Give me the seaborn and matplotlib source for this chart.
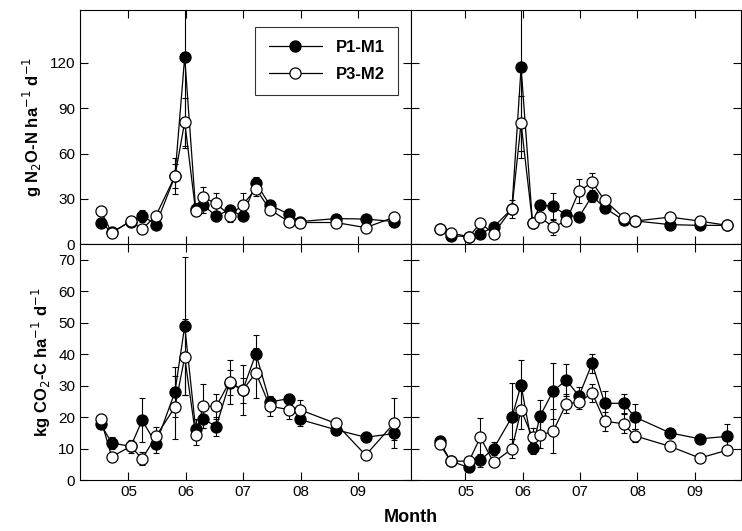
import numpy as np
import pandas as pd
import matplotlib
matplotlib.use("Agg")
import matplotlib.pyplot as plt
import seaborn as sns

# sampling dates, month as decimal (05 = May)
x_left = [4.52, 4.71, 5.04, 5.24, 5.48, 5.81, 5.98, 6.17, 6.30, 6.53, 6.76, 6.99,
          7.22, 7.46, 7.79, 7.98, 8.61, 9.13, 9.63]
x_right = [4.55, 4.74, 5.06, 5.26, 5.49, 5.81, 5.97, 6.17, 6.30, 6.53, 6.76, 6.98,
           7.21, 7.43, 7.76, 7.95, 8.57, 9.09, 9.57]

# N2O flux (g N2O-N ha-1 d-1)
n2o_l_p1 = [14.4, 8, 15, 19, 13, 45, 124, 23.5, 26, 18.5, 23, 18.5, 40.6, 26, 20, 15, 17, 16.7, 15]
n2o_l_p3 = [22, 7.5, 15.5, 10, 19, 45, 81, 22, 31, 27, 19, 26, 36.8, 23, 15, 14.4, 14.4, 11, 18]
n2o_l_p1_err = [2, 1, 2, 4, 3, 8, 60, 4, 5, 3, 3, 2, 4, 3, 2, 1, 1, 1, 1]
n2o_l_p3_err = [2, 1, 2, 2, 3, 12, 16, 3, 7, 7, 4, 8, 5, 3, 2, 1, 1, 1, 1]
n2o_r_p1 = [10, 5.7, 5, 7, 11.4, 23.5, 117, 14, 26, 25, 19.4, 18, 32, 24, 16, 15.5, 13, 12.5, 12.5]
n2o_r_p3 = [10, 7.5, 5, 14, 7, 23.5, 80, 14, 18, 11.4, 15.5, 35, 41, 29, 17.6, 15.3, 18, 15.3, 12.5]
n2o_r_p1_err = [1, 1, 1, 2, 2, 3, 60, 2, 3, 9, 3, 2, 4, 3, 2, 1, 1, 1, 1]
n2o_r_p3_err = [1, 1, 1, 2, 2, 6, 18, 2, 3, 5, 3, 8, 6, 3, 2, 1, 1, 1, 1]

# CO2 flux (kg CO2-C ha-1 d-1)
co2_l_p1 = [17.7, 11.8, 10.7, 19, 11.5, 28, 49, 16.3, 19.5, 17, 31, 28.6, 40.2, 24.8, 25.9, 19.3, 16, 13.6, 14.8]
co2_l_p3 = [19.3, 7.4, 10.7, 6.8, 13.9, 23.2, 39.1, 14.3, 23.5, 23.5, 31.2, 28.6, 34.1, 23.5, 22.4, 22.4, 18, 7.9, 18.2]
co2_l_p1_err = [1, 2, 1, 7, 3, 8, 22, 3, 3, 3, 4, 4, 6, 2, 1.5, 2, 1, 1, 2]
co2_l_p3_err = [1, 1, 2, 2, 3, 10, 12, 3, 7, 4, 7, 8, 8, 3, 3, 3, 1, 1, 8]
co2_r_p1 = [12.3, 6, 4, 6.3, 10, 20, 30.2, 10.2, 20.3, 28.3, 31.8, 26.7, 37.1, 24.4, 24.4, 20.1, 15, 13.1, 13.9]
co2_r_p3 = [11.5, 6, 6, 13.6, 5.6, 9.9, 22.2, 13.6, 14.3, 15.5, 24.3, 24.7, 27.7, 18.7, 17.9, 14.1, 10.7, 7, 9.5]
co2_r_p1_err = [1, 1, 1, 2, 2, 11, 8, 2, 5, 9, 5, 3, 3, 4, 3, 4, 1, 1, 4]
co2_r_p3_err = [1, 1, 1, 6, 1, 3, 6, 3, 4, 7, 3, 2, 3, 3, 3, 2, 1, 1, 1]

month_ticks = [5, 6, 7, 8, 9]
month_labels = ["05", "06", "07", "08", "09"]

sns.set_style("ticks")
plt.rcParams["font.family"] = ["Liberation Sans", "DejaVu Sans"]
plt.rcParams["text.color"] = "black"
plt.rcParams["axes.labelcolor"] = "black"
plt.rcParams["xtick.color"] = "black"
plt.rcParams["ytick.color"] = "black"

fig = plt.figure(figsize=(7.42, 5.31), dpi=100)
ax_tl = fig.add_axes([0.108, 0.540, 0.446, 0.441])
ax_tr = fig.add_axes([0.554, 0.540, 0.444, 0.441])
ax_bl = fig.add_axes([0.108, 0.096, 0.446, 0.444])
ax_br = fig.add_axes([0.554, 0.096, 0.444, 0.444])


def draw(ax, x, p1, p1e, p3, p3e):
    for y, e, fc, lab in [(p1, p1e, "black", "P1-M1"), (p3, p3e, "white", "P3-M2")]:
        ax.errorbar(x, y, yerr=e, fmt="none", ecolor="black", elinewidth=0.8,
                    capsize=2, capthick=0.8, zorder=1)
        sns.lineplot(x=x, y=y, ax=ax, color="black", lw=0.9, marker="o", ms=8,
                     markerfacecolor=fc, markeredgecolor="black", mew=0.9,
                     label=lab, zorder=3, legend=False)


draw(ax_tl, x_left, n2o_l_p1, n2o_l_p1_err, n2o_l_p3, n2o_l_p3_err)
draw(ax_tr, x_right, n2o_r_p1, n2o_r_p1_err, n2o_r_p3, n2o_r_p3_err)
draw(ax_bl, x_left, co2_l_p1, co2_l_p1_err, co2_l_p3, co2_l_p3_err)
draw(ax_br, x_right, co2_r_p1, co2_r_p1_err, co2_r_p3, co2_r_p3_err)

for ax in [ax_tl, ax_bl]:
    ax.set_xlim(4.16, 9.92)
for ax in [ax_tr, ax_br]:
    ax.set_xlim(4.05, 9.8)
for ax in [ax_tl, ax_tr]:
    ax.set_ylim(0, 155)
    ax.set_yticks([0, 30, 60, 90, 120])
for ax in [ax_bl, ax_br]:
    ax.set_ylim(0, 75)
    ax.set_yticks(range(0, 71, 10))

for ax in [ax_tl, ax_tr, ax_bl, ax_br]:
    ax.set_xticks(month_ticks)
    ax.set_xticklabels(month_labels)
    ax.tick_params(direction="in", top=True, right=True, length=6, width=0.8,
                   labelsize=11, color="black", labelcolor="black")
    for s in ax.spines.values():
        s.set_visible(True)
        s.set_linewidth(0.8)
        s.set_color("black")
    ax.set_xlabel("")
    ax.set_ylabel("")

for ax in [ax_tl, ax_tr]:
    ax.tick_params(labelbottom=False)
for ax in [ax_tr, ax_br]:
    ax.tick_params(labelleft=False)

ax_tl.set_ylabel(r"g N$_2$O-N ha$^{-1}$ d$^{-1}$", fontsize=12, fontweight="bold")
ax_bl.set_ylabel(r"kg CO$_2$-C ha$^{-1}$ d$^{-1}$", fontsize=12, fontweight="bold")
fig.text(0.554, 0.01, "Month", ha="center", va="bottom", fontsize=13, fontweight="bold")

leg = ax_tl.legend(loc="upper right", bbox_to_anchor=(0.985, 0.965),
                   prop={"weight": "bold", "size": 12}, frameon=True, fancybox=False,
                   edgecolor="black", handlelength=3.2, borderpad=0.8, labelspacing=0.7)
leg.get_frame().set_linewidth(0.8)

fig.savefig("out.png", dpi=100)
